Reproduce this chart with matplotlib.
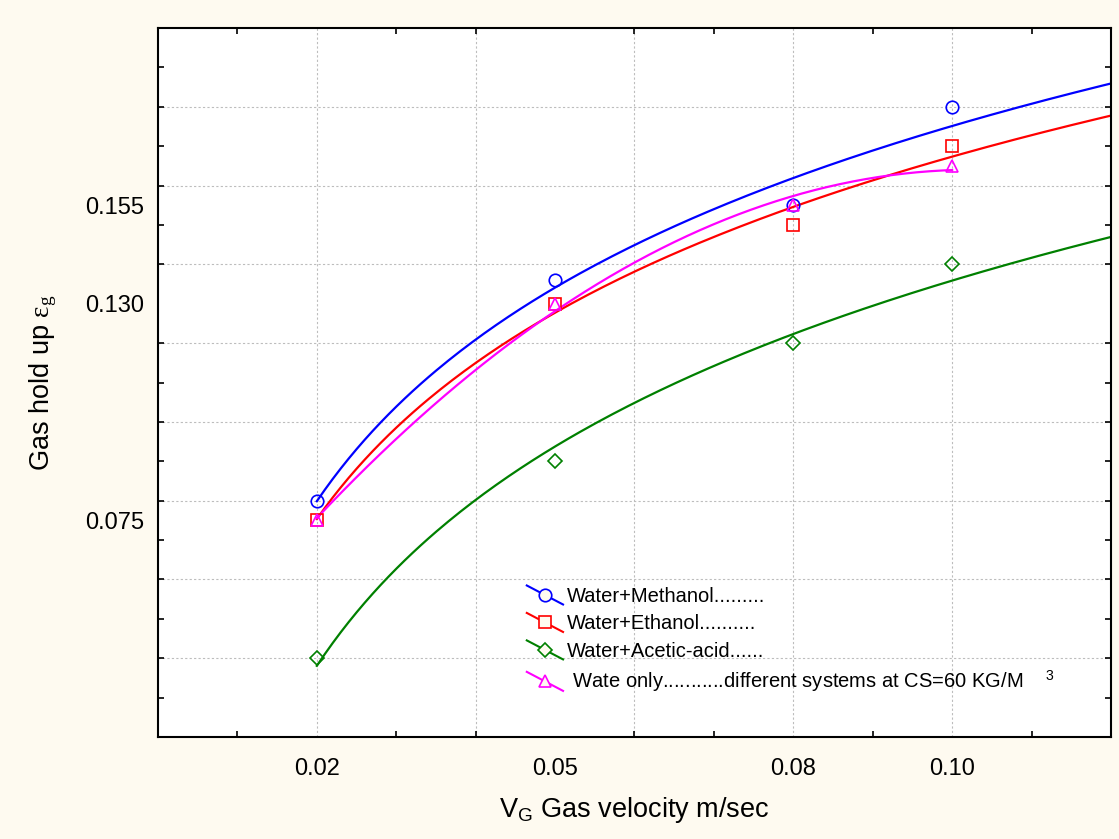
import numpy as np
import matplotlib
matplotlib.use('Agg')
from matplotlib import pyplot as plt
from matplotlib.lines import Line2D
from matplotlib.legend_handler import HandlerBase

plt.rcParams['font.family'] = ['Liberation Sans', 'DejaVu Sans']
plt.rcParams['mathtext.fontset'] = 'custom'
plt.rcParams['mathtext.rm'] = 'Liberation Serif'
plt.rcParams['mathtext.sf'] = 'Liberation Sans'
plt.rcParams['mathtext.it'] = 'Liberation Serif:italic'

# gas velocity (m/sec)
vg = np.array([0.02, 0.05, 0.08, 0.10])

# gas hold up for each system
methanol = np.array([0.080, 0.136, 0.155, 0.180])
ethanol = np.array([0.075, 0.130, 0.150, 0.170])
acetic = np.array([0.040, 0.090, 0.120, 0.140])
water = np.array([0.075, 0.130, 0.155, 0.165])

labels = ['Water+Methanol.........',
          'Water+Ethanol..........',
          'Water+Acetic-acid......',
          ' Wate only...........different systems at CS=60 KG/M    $^{\\mathsf{3}}$']

xticks = [0.02, 0.05, 0.08, 0.10]
xticklabels = ['0.02', '0.05', '0.08', '0.10']
yticks = [0.155, 0.130, 0.075]
yticklabels = ['0.155', '0.130', '0.075']


class SlantHandler(HandlerBase):
    # legend symbol: slanted line with marker in the middle
    def create_artists(self, legend, orig_handle, xdescent, ydescent,
                       width, height, fontsize, trans):
        x0, x1 = -xdescent, -xdescent + width
        y0, y1 = -ydescent + height * 1.15, -ydescent - height * 0.2
        ln = Line2D([x0, x1], [y0, y1], color=orig_handle.get_color(), lw=1.5)
        mk = Line2D([(x0 + x1) / 2], [(y0 + y1) / 2],
                    marker=orig_handle.get_marker(),
                    markersize=orig_handle.get_markersize(),
                    markeredgecolor=orig_handle.get_color(),
                    markerfacecolor='#fffbf0', markeredgewidth=1.2)
        ln.set_transform(trans)
        mk.set_transform(trans)
        return [ln, mk]


fig = plt.figure(figsize=(11.19, 8.39), dpi=100, facecolor='#fefaf0')
ax = fig.add_axes([0.1412, 0.1216, 0.8516, 0.845])
ax.set_facecolor('white')

# grid
for gx in np.arange(0.02, 0.111, 0.02):
    ax.axvline(gx, color='#bdbdbd', lw=0.8, ls=(0, (2, 2)), zorder=0)
for gy in np.arange(0.04, 0.191, 0.02):
    ax.axhline(gy, color='#bdbdbd', lw=0.8, ls=(0, (2, 2)), zorder=0)

series = [
    (methanol, 'blue', 'o', 9, 'log'),
    (ethanol, 'red', 's', 9, 'log'),
    (acetic, 'green', 'D', 7, 'log'),
    (water, 'magenta', '^', 9, 'quad'),
]

handles = []
for y, col, mk, ms, kind in series:
    if kind == 'log':
        coef = np.polyfit(np.log(vg), y, 1)
        xf = np.linspace(0.02, 0.12, 200)
        yf = np.polyval(coef, np.log(xf))
    else:
        coef = np.polyfit(vg, y, 2)
        xf = np.linspace(0.02, 0.10, 200)
        yf = np.polyval(coef, xf)
    ax.plot(xf, yf, color=col, lw=1.6, zorder=2)
    ax.plot(vg, y, ls='none', marker=mk, ms=ms, mfc='none', mec=col,
            mew=1.2, zorder=3)
    handles.append(Line2D([], [], color=col, marker=mk, markersize=ms))

ax.set_xlim(0.0, 0.12)
ax.set_ylim(0.02, 0.20)

ax.set_xticks(xticks)
ax.set_xticklabels(xticklabels)
ax.set_yticks(yticks)
ax.set_yticklabels(yticklabels)
ax.set_xticks(np.arange(0.0, 0.121, 0.01), minor=True)
ax.set_yticks(np.arange(0.02, 0.201, 0.01), minor=True)
ax.tick_params(which='major', length=0, labelsize=17, pad=15)
ax.tick_params(axis='y', which='major', pad=10)
ax.tick_params(which='minor', direction='in', length=4, width=1.2,
               top=True, right=True)

for s in ax.spines.values():
    s.set_linewidth(1.5)

ax.set_xlabel('$\\mathsf{V_G}$ Gas velocity m/sec', fontsize=19.5, labelpad=11)
ax.set_ylabel('Gas hold up $\\mathrm{\\varepsilon_g}$', fontsize=19.5, labelpad=19)

leg = ax.legend(handles, labels, handler_map={Line2D: SlantHandler()},
                loc='upper left', bbox_to_anchor=(0.387, 0.212),
                frameon=False, fontsize=14.5, handlelength=1.8,
                handletextpad=0.2, labelspacing=0.42, borderpad=0,
                borderaxespad=0)

fig.savefig('out.png', dpi=100, facecolor=fig.get_facecolor())
